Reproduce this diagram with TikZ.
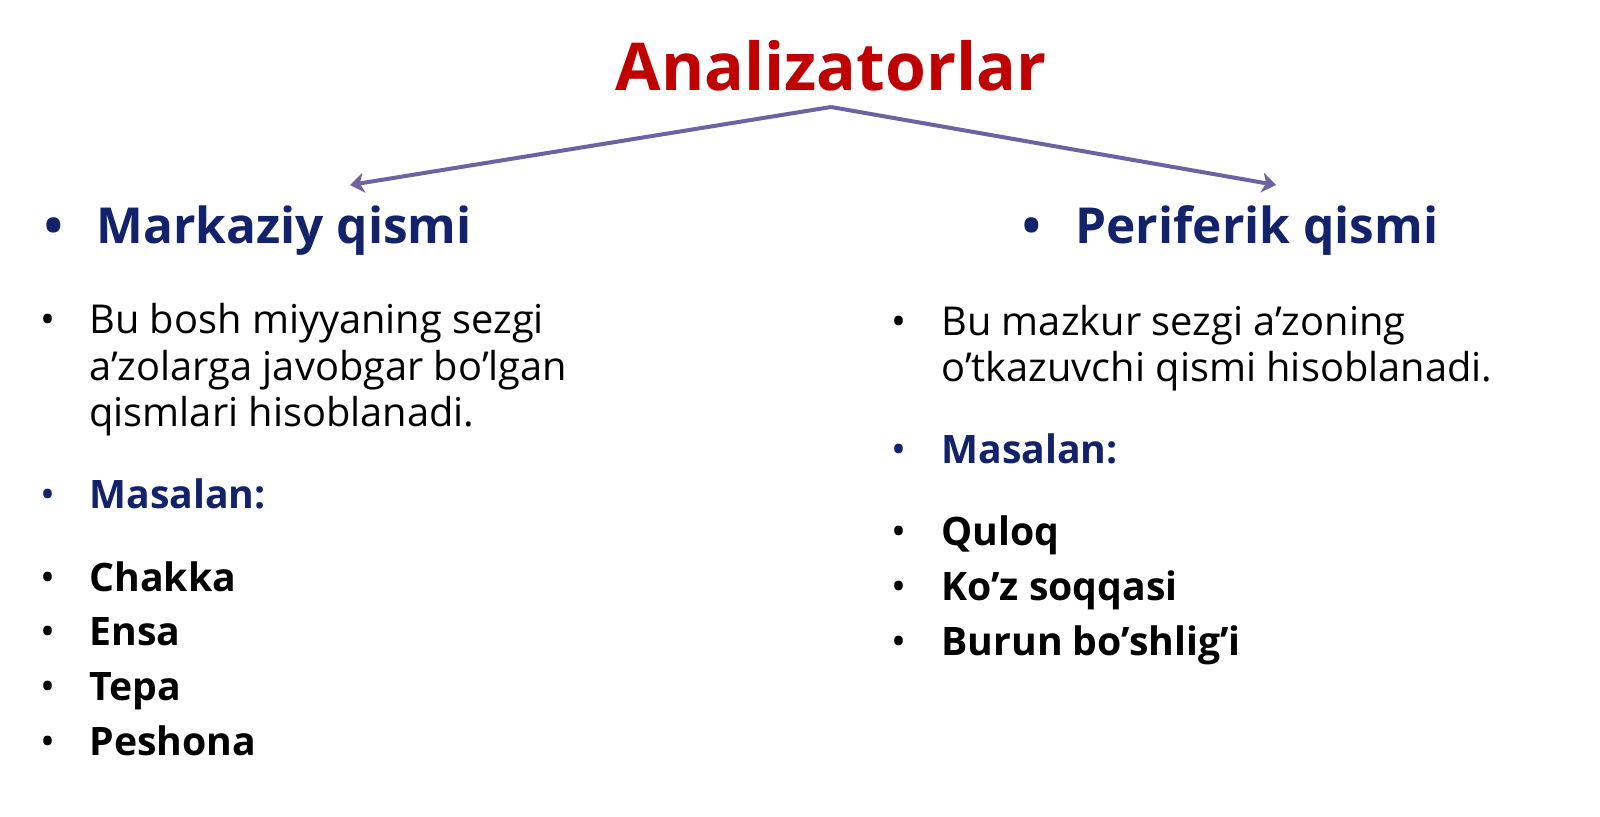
\documentclass[tikz,border=0pt]{standalone}
\usepackage{fontspec}
\setmainfont{Open Sans}
\usetikzlibrary{arrows.meta}
\definecolor{titlered}{HTML}{C00000}
\definecolor{navy}{HTML}{12226B}
\definecolor{arrowpurple}{HTML}{6E62A2}
\tikzset{
  txt/.style={anchor=base west, inner sep=0pt, font=\fontsize{19.9}{23}\selectfont},
  bul/.style={anchor=base west, inner sep=0pt, font=\fontsize{19.9}{23}\selectfont},
  bold/.style={anchor=base west, inner sep=0pt, font=\fontsize{19.6}{23}\selectfont\bfseries},
  head/.style={anchor=base west, inner sep=0pt, text=navy, font=\fontsize{24.8}{28}\selectfont\bfseries},
  conn/.style={draw=arrowpurple, line width=2pt, -{Stealth[length=7pt,width=10pt,inset=2pt]}}
}
\begin{document}
\begin{tikzpicture}[x=0.5pt,y=-0.5pt]
\useasboundingbox (0,0) rectangle (1600,816);
\node[anchor=base, inner sep=0pt, text=titlered, font=\fontsize{33}{38}\selectfont\bfseries] (title) at (831,90) {Analizatorlar};
\coordinate (top) at (831,107);
\coordinate (aL) at (350,185);
\coordinate (aR) at (1276,185);
\draw[conn] (top) -- (aL);
\draw[conn] (top) -- (aR);

% headings
\node[head] (bh1) at (44,243) {•};
\node[head] (h1) at (96,243) {Markaziy qismi};
\node[head] (bh2) at (1022,243) {•};
\node[head] (h2) at (1075,243) {Periferik qismi};

% left column
\node[bul] (lb1) at (40,333) {•};
\node[txt] (l1) at (89,333) {Bu bosh miyyaning sezgi};
\node[txt] (l2) at (89,380) {a’zolarga javobgar bo’lgan};
\node[txt] (l3) at (89,426) {qismlari hisoblanadi.};
\node[bul, text=navy] (lb2) at (40,508) {•};
\node[bold, text=navy] (l4) at (89,508) {Masalan:};
\node[bul] (lb3) at (40,591) {•};
\node[bold] (l5) at (89,591) {Chakka};
\node[bul] (lb4) at (40,645) {•};
\node[bold] (l6) at (89,645) {Ensa};
\node[bul] (lb5) at (40,700) {•};
\node[bold] (l7) at (89,700) {Tepa};
\node[bul] (lb6) at (40,755) {•};
\node[bold] (l8) at (89,755) {Peshona};

% right column
\node[bul] (rb1) at (891,335) {•};
\node[txt] (r1) at (941,335) {Bu mazkur sezgi a’zoning};
\node[txt] (r2) at (941,381) {o’tkazuvchi qismi hisoblanadi.};
\node[bul, text=navy] (rb2) at (891,463) {•};
\node[bold, text=navy] (r3) at (941,463) {Masalan:};
\node[bul] (rb3) at (891,545) {•};
\node[bold] (r4) at (941,545) {Quloq};
\node[bul] (rb4) at (891,600) {•};
\node[bold] (r5) at (941,600) {Ko’z soqqasi};
\node[bul] (rb5) at (891,655) {•};
\node[bold] (r6) at (941,655) {Burun bo’shlig’i};
\end{tikzpicture}
\end{document}
